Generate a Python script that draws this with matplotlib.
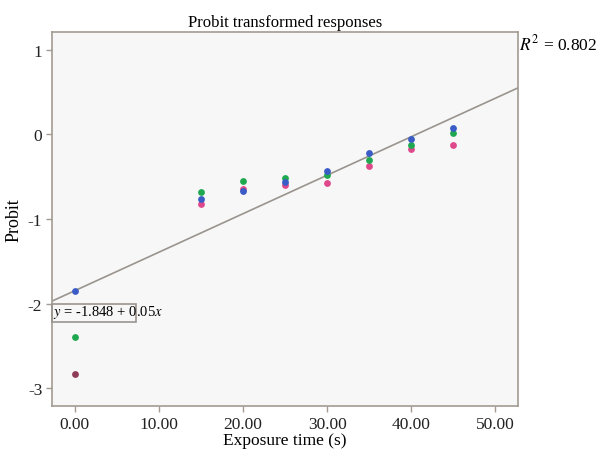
import matplotlib
matplotlib.use("Agg")
import matplotlib.pyplot as plt
from matplotlib.patches import Rectangle
import numpy as np

plt.rcParams['font.family'] = ['Liberation Serif', 'DejaVu Serif']
plt.rcParams['mathtext.fontset'] = 'stix'

# exposure times (s) and probit values per replicate
times = [0, 15, 20, 25, 30, 35, 40, 45]
probit_blue = [-1.85, -0.76, -0.675, -0.56, -0.435, -0.225, -0.05, 0.08]
probit_green = [-2.40, -0.68, -0.555, -0.52, -0.48, -0.30, -0.125, 0.02]
probit_pink = [-2.83, -0.82, -0.64, -0.60, -0.57, -0.375, -0.175, -0.12]

# fitted line
intercept = -1.848
slope = 0.0455
r2_text = "$R^2$ = 0.802"
eq_text = "$y$ = -1.848 + 0.05$x$"

xticks = [0, 10, 20, 30, 40, 50]
yticks = [1, 0, -1, -2, -3]

fig = plt.figure(figsize=(5.97, 4.52), dpi=100)
ax = fig.add_axes([0.0871, 0.0996, 0.7806, 0.8274])
ax.set_facecolor('#f7f7f7')

xlim = (-2.7, 52.7)
xs = np.array(xlim)
ax.plot(xs, intercept + slope * xs, color='#9a948e', lw=1.2, zorder=1)

ms = 24
ax.scatter(times[1:], probit_pink[1:], s=ms, color='#e0488c', zorder=2, lw=0)
ax.scatter(times[:1], probit_pink[:1], s=ms, color='#8e3b58', zorder=2, lw=0)
ax.scatter(times, probit_green, s=ms, color='#1fa84f', zorder=3, lw=0)
ax.scatter(times, probit_blue, s=ms, color='#3a5cc6', zorder=4, lw=0)

ax.set_xlim(*xlim)
ax.set_ylim(-3.21, 1.21)
ax.set_xticks(xticks)
ax.set_xticklabels(['%.2f' % t for t in xticks])
ax.set_yticks(yticks)
ax.set_yticklabels([str(v) for v in yticks])

for sp in ax.spines.values():
    sp.set_color('#a39b92')
    sp.set_linewidth(1.2)
ax.tick_params(direction='out', length=4, width=1, color='#a39b92',
               labelsize=12.5, labelcolor='#222222', pad=3)

ax.set_title('Probit transformed responses', fontsize=12, pad=4)
ax.set_xlabel('Exposure time (s)', fontsize=12.5, labelpad=0)
ax.set_ylabel('Probit', fontsize=13, labelpad=4)

fig.text(0.869, 0.902, r2_text, fontsize=12.5, ha='left', va='center')

# equation label with its box (box narrower than the text, as in the source)
ax.add_patch(Rectangle((-2.7, -2.215), 10.0, 0.215, fill=False,
                       ec='#9a948e', lw=1.2, zorder=5, clip_on=False))
ax.text(-2.55, -2.095, eq_text, fontsize=10.5, ha='left', va='center', zorder=6)

fig.savefig('out.png', dpi=100)
